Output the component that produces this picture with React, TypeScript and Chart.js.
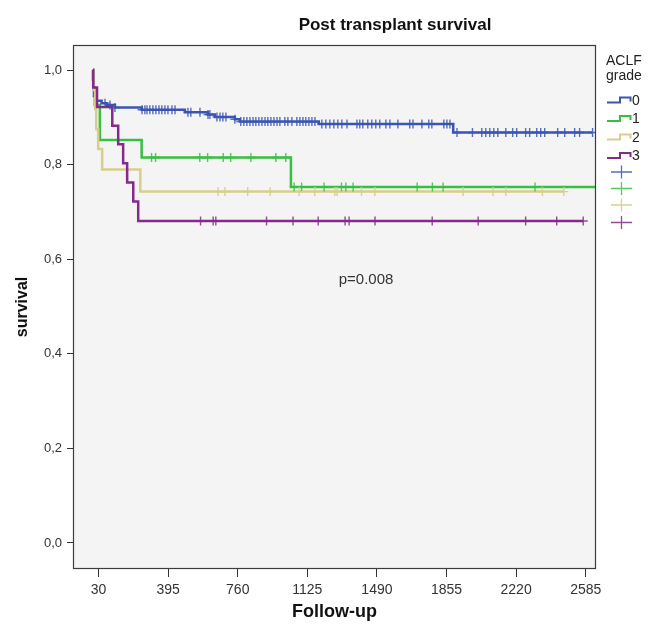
import React, { useEffect, useRef } from 'react';
import { Chart, registerables } from 'chart.js';

Chart.register(...registerables);

// ---------- data ----------
const grades = ['0', '1', '2', '3'];
const legendTitle = ['ACLF', 'grade'];
const chartTitle = 'Post transplant survival';
const xAxisTitle = 'Follow-up';
const yAxisTitle = 'survival';
const pValueText = 'p=0.008';
const xTicks = [30, 395, 760, 1125, 1490, 1855, 2220, 2585];
const yTicks = [0, 0.2, 0.4, 0.6, 0.8, 1.0];

// grade 0
const g0Times = [0, 1, 3, 6, 20, 46, 72, 116, 257, 483, 603, 640, 745, 771, 1185, 1890, 2621];
const g0Surv = [1.0, 0.98, 0.96, 0.945, 0.935, 0.93, 0.926, 0.921, 0.916, 0.911, 0.906, 0.901, 0.896, 0.891, 0.886, 0.868, 0.868];
const g0Censored = [64, 90, 116, 258, 273, 284, 299, 315, 331, 347, 362, 378, 394, 415, 431, 499, 514, 562, 604, 614, 651, 667, 682, 698, 745, 776, 792, 808, 824, 840, 855, 871, 887, 903, 918, 934, 950, 966, 981, 1007, 1023, 1044, 1070, 1086, 1102, 1117, 1133, 1149, 1165, 1201, 1222, 1243, 1264, 1285, 1306, 1333, 1385, 1400, 1416, 1442, 1463, 1484, 1505, 1537, 1558, 1600, 1662, 1679, 1726, 1762, 1778, 1841, 1857, 1873, 1910, 1991, 2040, 2061, 2082, 2103, 2124, 2166, 2202, 2223, 2270, 2291, 2328, 2349, 2370, 2438, 2475, 2527, 2553, 2621];

// grade 1
const g1Times = [0, 3, 10, 37, 256, 1039, 2639];
const g1Surv = [1.0, 0.963, 0.926, 0.852, 0.815, 0.753, 0.753];
const g1Censored = [308, 329, 561, 602, 684, 723, 829, 960, 1012, 1056, 1095, 1213, 1304, 1327, 1365, 1701, 1781, 1837, 2319];

// grade 2
const g2Times = [0, 3, 12, 18, 28, 49, 249, 2470];
const g2Surv = [1.0, 0.958, 0.917, 0.875, 0.833, 0.79, 0.743, 0.743];
const g2Censored = [657, 693, 812, 930, 1082, 1164, 1269, 1281, 1409, 1479, 1942, 2099, 2166, 2358, 2470];

// grade 3
const g3Times = [0, 2, 22, 102, 133, 159, 180, 212, 238, 2572];
const g3Surv = [1.0, 0.963, 0.922, 0.882, 0.843, 0.803, 0.762, 0.722, 0.681, 0.681];
const g3Censored = [565, 631, 645, 911, 1050, 1182, 1323, 1344, 1480, 1780, 2021, 2270, 2433, 2572];

const groups = [
  { times: g0Times, surv: g0Surv, censored: g0Censored },
  { times: g1Times, surv: g1Surv, censored: g1Censored },
  { times: g2Times, surv: g2Surv, censored: g2Censored },
  { times: g3Times, surv: g3Surv, censored: g3Censored },
];

const lineColors = ['#3b55b3', '#37bf3f', '#d7ce8c', '#852a8a'];
const censorColors = ['rgba(59,85,179,0.85)', 'rgba(55,191,63,0.85)', 'rgba(215,206,140,0.95)', 'rgba(133,42,138,0.85)'];
const drawOrder = [2, 3, 1, 0];

const FONT = "'Liberation Sans', Arial, sans-serif";

function survivalAt(times: number[], surv: number[], t: number) {
  let s = surv[0];
  for (let i = 0; i < times.length; i++) if (times[i] <= t) s = surv[i];
  return s;
}

const decorPlugin = {
  id: 'decor',
  beforeDraw(chart: any) {
    const { ctx, chartArea: a } = chart;
    ctx.save();
    ctx.fillStyle = '#ffffff';
    ctx.fillRect(0, 0, chart.width, chart.height);
    ctx.fillStyle = '#f4f4f4';
    ctx.fillRect(a.left, a.top, a.right - a.left, a.bottom - a.top);
    ctx.restore();
  },
  afterDraw(chart: any) {
    const { ctx, chartArea: a } = chart;
    ctx.save();
    // frame
    ctx.strokeStyle = '#3c3c3c';
    ctx.lineWidth = 1.2;
    ctx.strokeRect(a.left + 0.5, a.top + 0.5, a.right - a.left - 1, a.bottom - a.top - 1);

    // title
    ctx.fillStyle = '#111';
    ctx.font = `bold 17px ${FONT}`;
    ctx.textAlign = 'center';
    ctx.textBaseline = 'middle';
    ctx.fillText(chartTitle, 395, 25);

    // p-value
    ctx.font = `15px ${FONT}`;
    ctx.fillStyle = '#333';
    ctx.fillText(pValueText, 366, 280);

    // legend
    ctx.textAlign = 'left';
    ctx.font = `14px ${FONT}`;
    ctx.fillStyle = '#222';
    ctx.fillText(legendTitle[0], 606, 61);
    ctx.fillText(legendTitle[1], 606, 76);
    const itemY = [100, 118.5, 137, 155.5];
    const crossY = [172, 188.5, 205, 222.5];
    grades.forEach((g, i) => {
      const y = itemY[i];
      ctx.strokeStyle = lineColors[i];
      ctx.lineWidth = 2;
      ctx.beginPath();
      ctx.moveTo(607, y + 2.5);
      ctx.lineTo(620, y + 2.5);
      ctx.lineTo(620, y - 2.5);
      ctx.lineTo(630.5, y - 2.5);
      ctx.lineTo(630.5, y + 1.5);
      ctx.stroke();
      ctx.fillStyle = '#222';
      ctx.font = `14px ${FONT}`;
      ctx.fillText(g, 632, y + 1);

      const cy = crossY[i];
      ctx.strokeStyle = censorColors[i];
      ctx.lineWidth = 1.3;
      ctx.beginPath();
      ctx.moveTo(611, cy);
      ctx.lineTo(632, cy);
      ctx.moveTo(621.5, cy - 6.5);
      ctx.lineTo(621.5, cy + 6.5);
      ctx.stroke();
    });
    ctx.restore();
  },
};

export default function App() {
  const canvasRef = useRef<HTMLCanvasElement | null>(null);

  useEffect(() => {
    if (!canvasRef.current) return;
    const datasets: any[] = [];
    groups.forEach((g, i) => {
      datasets.push({
        label: grades[i],
        data: g.times.map((t, k) => ({ x: t, y: g.surv[k] })),
        stepped: 'before',
        borderColor: lineColors[i],
        backgroundColor: lineColors[i],
        borderWidth: 2.5,
        pointRadius: 0,
        fill: false,
        order: drawOrder[i] + 10,
      });
    });
    groups.forEach((g, i) => {
      datasets.push({
        label: grades[i] + ' censored',
        data: g.censored.map((t) => ({ x: t, y: survivalAt(g.times, g.surv, t) })),
        showLine: false,
        pointStyle: 'cross',
        pointRadius: 4.5,
        pointBorderWidth: 1.4,
        pointBorderColor: censorColors[i],
        borderColor: censorColors[i],
        backgroundColor: censorColors[i],
        order: drawOrder[i],
      });
    });

    const chart = new Chart(canvasRef.current, {
      type: 'line',
      data: { datasets },
      plugins: [decorPlugin],
      options: {
        animation: false,
        responsive: false,
        devicePixelRatio: 1,
        layout: { padding: { top: 45, right: 56, left: 0, bottom: 0 } },
        plugins: { legend: { display: false }, tooltip: { enabled: false }, title: { display: false } },
        scales: {
          x: {
            type: 'linear',
            min: -104,
            max: 2639,
            afterBuildTicks: (s: any) => {
              s.ticks = xTicks.map((v) => ({ value: v }));
            },
            afterFit: (s: any) => {
              s.height = 59;
            },
            ticks: {
              autoSkip: false,
              maxRotation: 0,
              padding: 5,
              color: '#333',
              font: { family: FONT, size: 14 },
              callback: (v: any) => String(v),
            },
            grid: { drawOnChartArea: false, drawTicks: true, tickLength: 8, color: '#333', lineWidth: 1 },
            border: { display: false },
            title: {
              display: true,
              text: xAxisTitle,
              color: '#111',
              font: { family: FONT, size: 18, weight: 'bold' },
              padding: { top: 0, bottom: 5 },
            },
          },
          y: {
            type: 'linear',
            min: -0.055,
            max: 1.053,
            afterBuildTicks: (s: any) => {
              s.ticks = yTicks.map((v) => ({ value: v }));
            },
            afterFit: (s: any) => {
              s.width = 73;
            },
            ticks: {
              autoSkip: false,
              padding: 5,
              color: '#333',
              font: { family: FONT, size: 13 },
              callback: (v: any) => Number(v).toFixed(1).replace('.', ','),
            },
            grid: { drawOnChartArea: false, drawTicks: true, tickLength: 6, color: '#333', lineWidth: 1 },
            border: { display: false },
            title: {
              display: true,
              text: yAxisTitle,
              color: '#111',
              font: { family: FONT, size: 16, weight: 'bold' },
              padding: { top: 13, bottom: 0 },
            },
          },
        },
      } as any,
    });
    return () => chart.destroy();
  }, []);

  return (
    <div style={{ position: 'fixed', left: 0, top: 0, width: 652, height: 628, background: '#fff' }}>
      <canvas ref={canvasRef} width={652} height={628} style={{ display: 'block' }} />
    </div>
  );
}
